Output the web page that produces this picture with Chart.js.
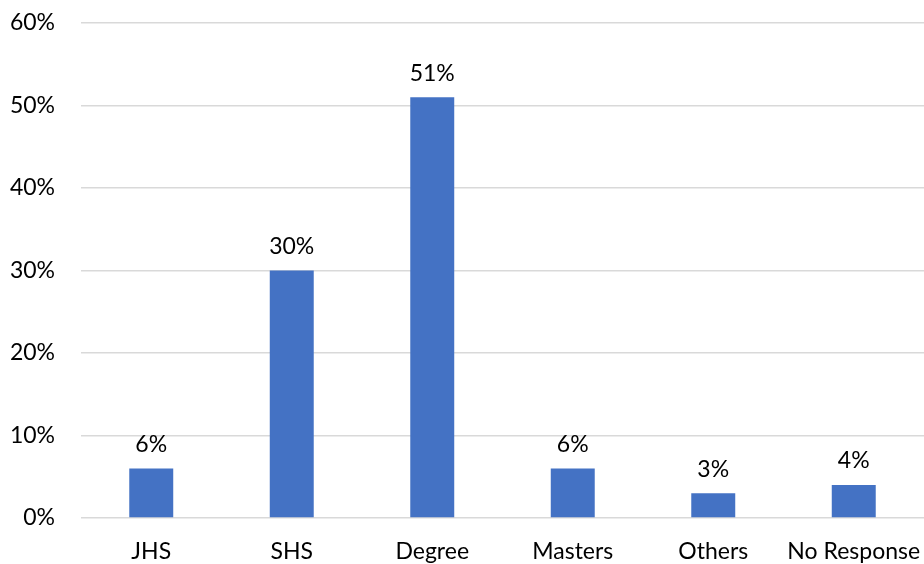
<!DOCTYPE html>
<html>
<head>
<meta charset="utf-8">
<script src="https://cdn.jsdelivr.net/npm/chart.js@4/dist/chart.umd.min.js"></script>
<style>
  html, body { margin: 0; padding: 0; background: #fff; }
  #wrap { width: 924px; height: 564px; }
</style>
</head>
<body>
<div id="wrap"><canvas id="chart" width="924" height="564"></canvas></div>
<script>
const categories = ['JHS', 'SHS', 'Degree', 'Masters', 'Others', 'No Response'];
const shares = [6, 30, 51, 6, 3, 4];
const yTicks = [0, 10, 20, 30, 40, 50, 60];

const FONT = 'Lato, "Open Sans", sans-serif';
const TEXT = '#000000';

// draws the percent above each bar
const barLabels = {
  id: 'barLabels',
  afterDatasetsDraw(chart) {
    const ctx = chart.ctx;
    const meta = chart.getDatasetMeta(0);
    ctx.save();
    ctx.font = '23px ' + FONT;
    ctx.fillStyle = TEXT;
    ctx.textAlign = 'center';
    ctx.textBaseline = 'middle';
    meta.data.forEach((bar, i) => {
      ctx.fillText(shares[i] + '%', bar.x, bar.y - 24);
    });
    ctx.restore();
  }
};

new Chart(document.getElementById('chart').getContext('2d'), {
  type: 'bar',
  data: {
    labels: categories,
    datasets: [{
      data: shares,
      backgroundColor: '#4472C4',
      borderWidth: 0,
      categoryPercentage: 1,
      barPercentage: 0.313
    }]
  },
  options: {
    responsive: false,
    animation: false,
    layout: { padding: { top: 23, right: 0, bottom: 0, left: 0 } },
    plugins: { legend: { display: false }, tooltip: { enabled: false } },
    scales: {
      x: {
        grid: { display: false },
        border: { display: false },
        ticks: { color: TEXT, font: { family: FONT, size: 23 }, padding: 12, maxRotation: 0, autoSkip: false },
        afterFit(scale) { scale.height = 46; scale.paddingLeft = 0; scale.paddingRight = 0; }
      },
      y: {
        min: 0,
        max: 60,
        afterBuildTicks(scale) { scale.ticks = yTicks.map(v => ({ value: v })); },
        grid: { color: '#d9d9d9', lineWidth: 1.5, drawTicks: false },
        border: { display: false },
        ticks: {
          color: TEXT,
          font: { family: FONT, size: 23 },
          padding: 26,
          callback: v => v + '%'
        },
        afterFit(scale) { scale.width = 81; scale.paddingTop = 0; scale.paddingBottom = 0; }
      }
    }
  },
  plugins: [barLabels]
});
</script>
</body>
</html>
